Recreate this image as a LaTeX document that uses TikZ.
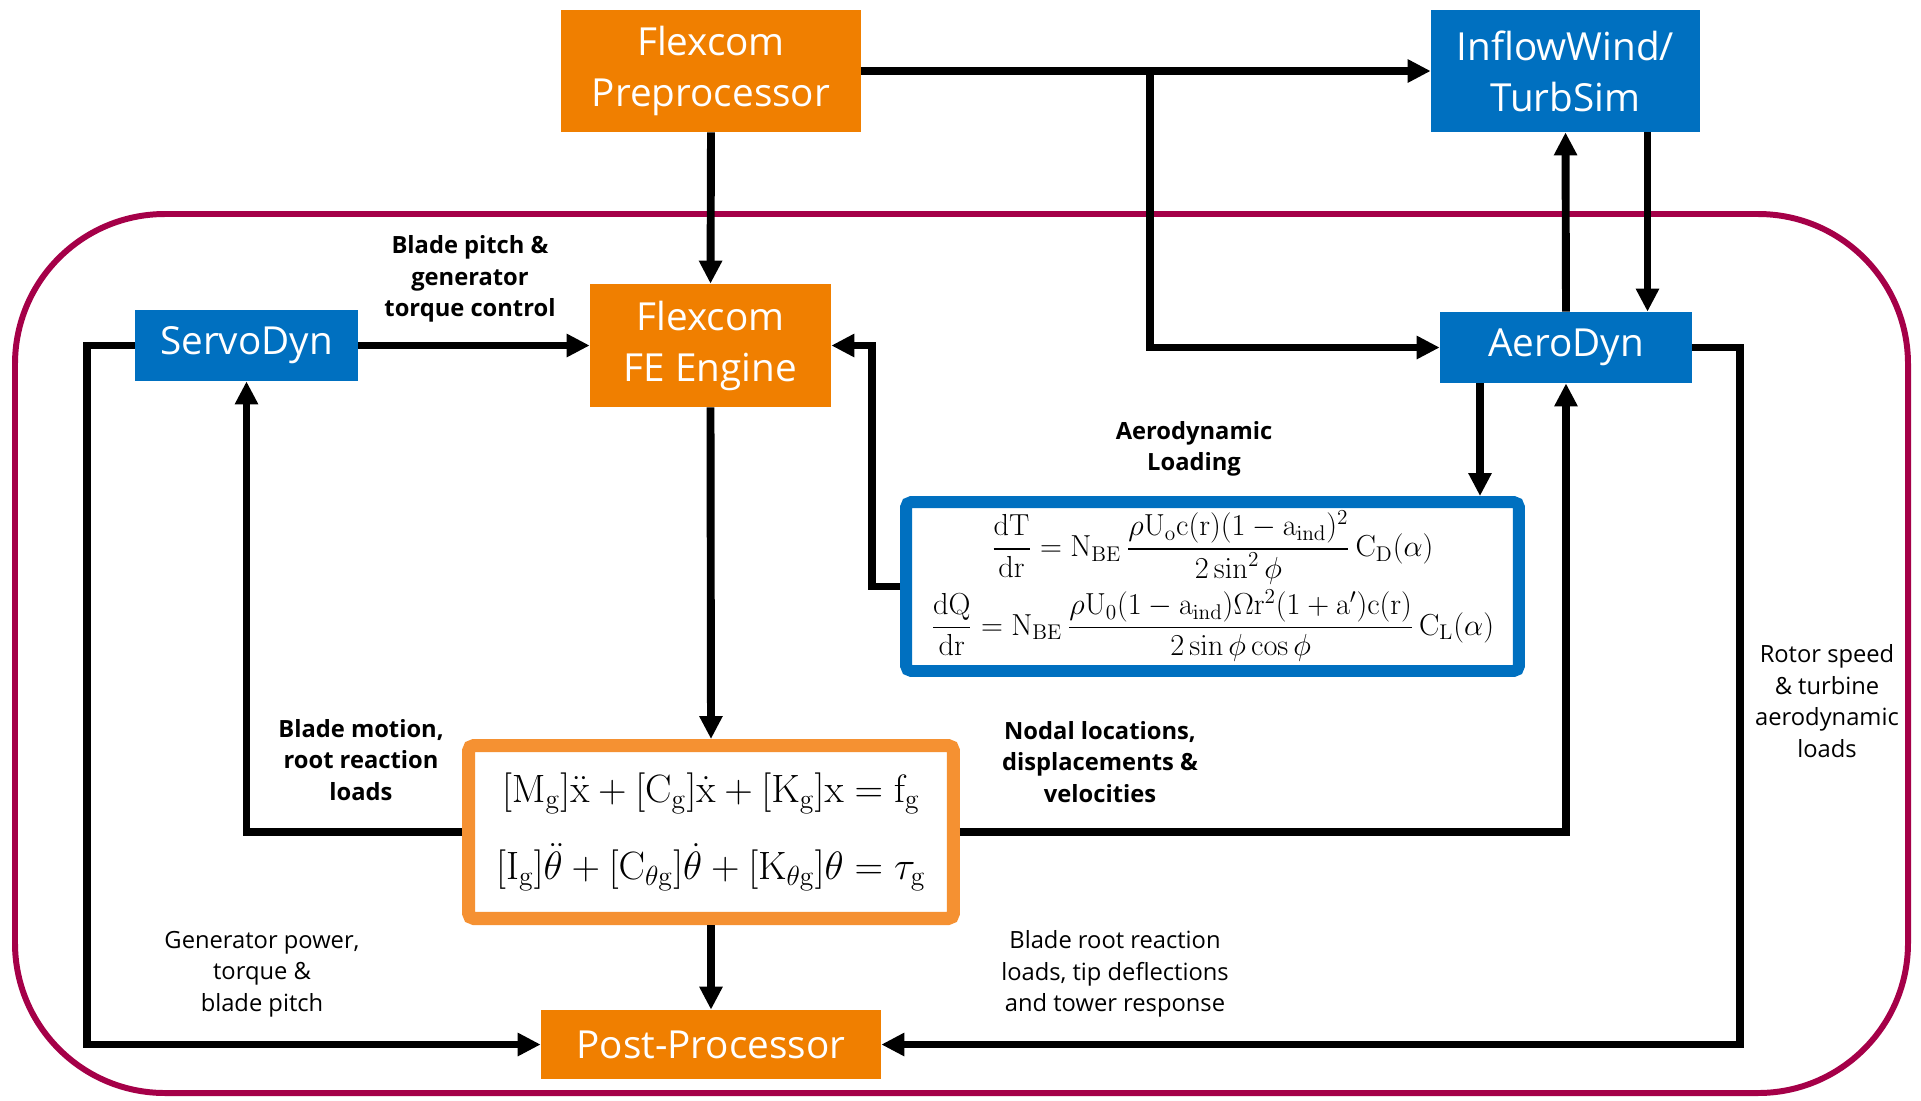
\RequirePackage{fix-cm}
\documentclass[tikz,border=0pt]{standalone}
\usepackage{amsmath}
\usepackage[no-math]{fontspec}
\setmainfont{Open Sans}
\usetikzlibrary{arrows.meta,calc}

\definecolor{flexorange}{RGB}{240,127,0}
\definecolor{eqorange}{RGB}{245,145,50}
\definecolor{fastblue}{RGB}{0,112,192}
\definecolor{framered}{RGB}{165,0,72}

\tikzset{
  module/.style={text=white, align=center, inner sep=0pt, font=\fontsize{22}{29}\selectfont},
  flexbox/.style={module, fill=flexorange},
  fastbox/.style={module, fill=fastblue},
  eqbox/.style={draw, fill=white, rounded corners=3pt, inner sep=0pt, align=center},
  conn/.style={line width=4.5pt, -{Triangle[length=0.46cm,width=0.44cm]}},
  lbl/.style={align=center, font=\fontsize{13.5}{18}\selectfont},
  blbl/.style={align=center, font=\bfseries\fontsize{13.5}{18}\selectfont}
}

\begin{document}
\begin{tikzpicture}[x=0.02cm, y=-0.02cm]
  \useasboundingbox (0,0) rectangle (1921,1100);
  % outer loop
  \draw[framered, line width=3.4pt, rounded corners=3cm] (15,214) rectangle (1908,1093);

  % modules
  \node[flexbox, minimum width=6cm, minimum height=2.44cm] (pre) at (711,71) {Flexcom\\Preprocessor};
  \node[fastbox, minimum width=5.38cm, minimum height=2.44cm] (inflow) at (1565.5,71) {InflowWind/\\TurbSim};
  \node[flexbox, minimum width=4.82cm, minimum height=2.46cm] (fe) at (710.5,345.5) {Flexcom\\FE Engine};
  \node[fastbox, minimum width=4.46cm, minimum height=1.42cm] (servo) at (246.5,345.5) {ServoDyn};
  \node[fastbox, minimum width=5.04cm, minimum height=1.42cm] (aero) at (1566,347.5) {AeroDyn};
  \node[flexbox, minimum width=6.8cm, minimum height=1.38cm] (post) at (711,1044.5) {Post-Processor};

  % equation boxes
  \node[eqbox, draw=fastblue, line width=6.8pt, minimum width=12.26cm, minimum height=3.38cm,
        font=\fontsize{17.3}{20}\selectfont] (aeq) at (1212.5,586.5)
    {$\displaystyle\frac{\mathrm{dT}}{\mathrm{dr}} = \mathrm{N_{BE}}\,\frac{\rho\mathrm{U_o c(r)(1-a_{ind})^2}}{2\sin^2\phi}\,\mathrm{C_D}(\alpha)$\\[2pt]
     $\displaystyle\frac{\mathrm{dQ}}{\mathrm{dr}} = \mathrm{N_{BE}}\,\frac{\rho\mathrm{U_0(1-a_{ind})}\Omega\mathrm{r^2(1+a')c(r)}}{2\sin\phi\cos\phi}\,\mathrm{C_L}(\alpha)$};
  \node[eqbox, draw=eqorange, line width=7.4pt, minimum width=9.7cm, minimum height=3.46cm,
        font=\fontsize{22.5}{25}\selectfont] (deq) at (711,832)
    {$[\mathrm{M_g}]\ddot{\mathrm{x}} + [\mathrm{C_g}]\dot{\mathrm{x}} + [\mathrm{K_g}]\mathrm{x} = \mathrm{f_g}$\\[16pt]
     $[\mathrm{I_g}]\ddot{\theta} + [\mathrm{C_{\theta g}}]\dot{\theta} + [\mathrm{K_{\theta g}}]\theta = \tau_{\mathrm{g}}$};

  % connectors
  \coordinate (split) at (1150,71);
  \draw[conn] (pre.east) -- (inflow.west);
  \draw[conn] (split) |- (aero.west);
  \draw[conn] (pre.south) -- (fe.north);
  \draw[conn] (aero.north) -- (inflow.south);
  \draw[conn] ($(inflow.south)+(82,0)$) coordinate (wind) -- (wind |- aero.north);
  \draw[conn] ($(aero.south)+(-86,0)$) coordinate (load) -- (load |- aeq.north);
  \draw[conn] (servo.east) -- (fe.west);
  \draw[conn] (aeq.west) -- ++(-28,0) |- (fe.east);
  \draw[conn] (fe.south) -- (deq.north);
  \draw[conn] (deq.west) -| (servo.south);
  \draw[conn] (deq.east) -| (aero.south);
  \draw[conn] (deq.south) -- (post.north);
  \draw[conn] (servo.west) -- ++(-48,0) |- (post.west);
  \draw[conn] (aero.east) -- ++(48,0) |- (post.east);

  % labels
  \node[blbl] (pitch) at (470,279) {Blade pitch \&\\generator\\torque control};
  \node[blbl] (aload) at (1194,449) {Aerodynamic\\Loading};
  \node[blbl] (motion) at (361,760) {Blade motion,\\root reaction\\loads};
  \node[blbl] (nodal) at (1100,762) {Nodal locations,\\displacements \&\\velocities};
  \node[lbl] (genpow) at (262,974) {Generator power,\\torque \&\\blade pitch};
  \node[lbl] (rootld) at (1115,974) {Blade root reaction\\loads, tip deflections\\and tower response};
  \node[lbl] (rotor) at (1827,701) {Rotor speed\\\& turbine\\aerodynamic\\loads};
\end{tikzpicture}
\end{document}
